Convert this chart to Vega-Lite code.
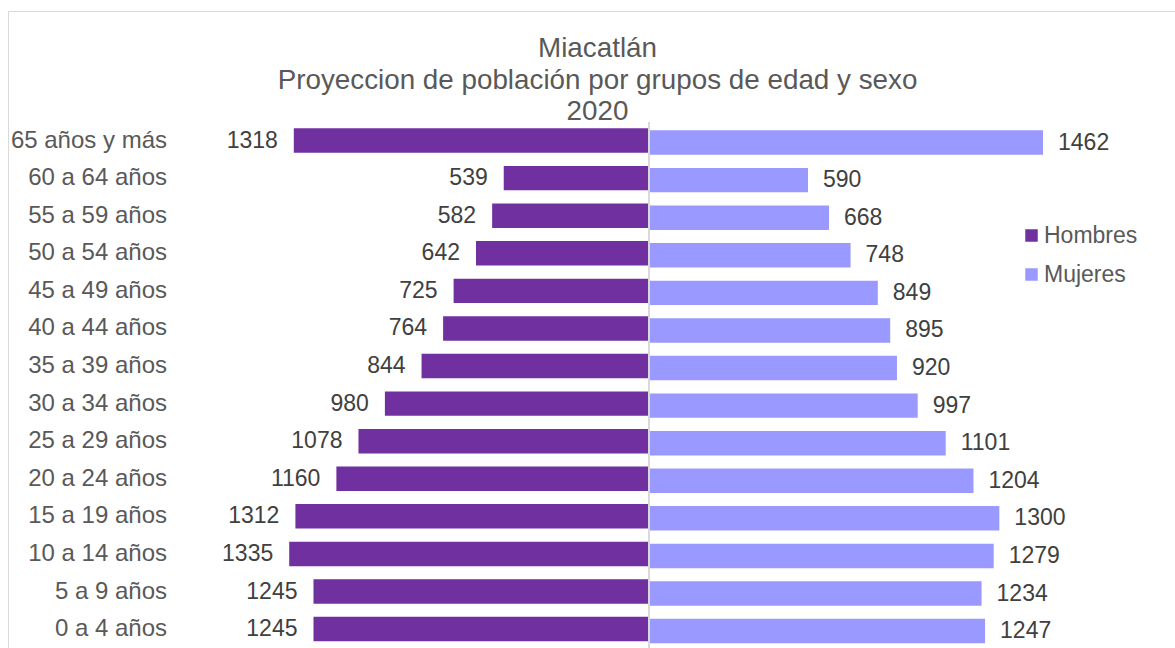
{
  "$schema": "https://vega.github.io/schema/vega-lite/v6.json",
  "width": 1167,
  "height": 637,
  "autosize": {"type": "none"},
  "padding": {"left": 8, "top": 11, "right": 0, "bottom": 0},
  "background": "white",
  "title": {
    "text": ["Miacatlán", "Proyeccion de población por grupos de edad y sexo", "2020"],
    "anchor": "middle",
    "frame": "group",
    "font": "Liberation Sans",
    "fontSize": 27.8,
    "fontWeight": "normal",
    "color": "#595959",
    "lineHeight": 31.4,
    "offset": -115,
    "dx": 6
  },
  "config": {
    "view": {"stroke": "#D9D9D9", "strokeWidth": 1},
    "font": "Liberation Sans"
  },
  "data": {
    "values": [
      {"grupo": "65 años y más", "sexo": "Hombres", "valor": 1318},
      {"grupo": "60 a 64 años", "sexo": "Hombres", "valor": 539},
      {"grupo": "55 a 59 años", "sexo": "Hombres", "valor": 582},
      {"grupo": "50 a 54 años", "sexo": "Hombres", "valor": 642},
      {"grupo": "45 a 49 años", "sexo": "Hombres", "valor": 725},
      {"grupo": "40 a 44 años", "sexo": "Hombres", "valor": 764},
      {"grupo": "35 a 39 años", "sexo": "Hombres", "valor": 844},
      {"grupo": "30 a 34 años", "sexo": "Hombres", "valor": 980},
      {"grupo": "25 a 29 años", "sexo": "Hombres", "valor": 1078},
      {"grupo": "20 a 24 años", "sexo": "Hombres", "valor": 1160},
      {"grupo": "15 a 19 años", "sexo": "Hombres", "valor": 1312},
      {"grupo": "10 a 14 años", "sexo": "Hombres", "valor": 1335},
      {"grupo": "5 a 9 años", "sexo": "Hombres", "valor": 1245},
      {"grupo": "0 a 4 años", "sexo": "Hombres", "valor": 1245},
      {"grupo": "65 años y más", "sexo": "Mujeres", "valor": 1462},
      {"grupo": "60 a 64 años", "sexo": "Mujeres", "valor": 590},
      {"grupo": "55 a 59 años", "sexo": "Mujeres", "valor": 668},
      {"grupo": "50 a 54 años", "sexo": "Mujeres", "valor": 748},
      {"grupo": "45 a 49 años", "sexo": "Mujeres", "valor": 849},
      {"grupo": "40 a 44 años", "sexo": "Mujeres", "valor": 895},
      {"grupo": "35 a 39 años", "sexo": "Mujeres", "valor": 920},
      {"grupo": "30 a 34 años", "sexo": "Mujeres", "valor": 997},
      {"grupo": "25 a 29 años", "sexo": "Mujeres", "valor": 1101},
      {"grupo": "20 a 24 años", "sexo": "Mujeres", "valor": 1204},
      {"grupo": "15 a 19 años", "sexo": "Mujeres", "valor": 1300},
      {"grupo": "10 a 14 años", "sexo": "Mujeres", "valor": 1279},
      {"grupo": "5 a 9 años", "sexo": "Mujeres", "valor": 1234},
      {"grupo": "0 a 4 años", "sexo": "Mujeres", "valor": 1247}
    ]
  },
  "encoding": {
    "y": {
      "field": "grupo",
      "type": "nominal",
      "sort": ["65 años y más", "60 a 64 años", "55 a 59 años", "50 a 54 años", "45 a 49 años", "40 a 44 años", "35 a 39 años", "30 a 34 años", "25 a 29 años", "20 a 24 años", "15 a 19 años", "10 a 14 años", "5 a 9 años", "0 a 4 años"],
      "scale": {"range": [117.3, 630.3], "paddingInner": 0.35, "paddingOuter": 0, "round": false},
      "axis": {
        "title": null,
        "domain": false,
        "ticks": false,
        "tickSize": 0,
        "grid": false,
        "labelPadding": -158.5,
        "labelAlign": "right",
        "labelBaseline": "middle",
        "labelFontSize": 24,
        "labelColor": "#595959",
        "labelFont": "Liberation Sans",
        "labelLimit": 400,
        "labelOverlap": false
      }
    }
  },
  "layer": [
    {
      "transform": [{"filter": "datum.sexo === 'Hombres'"}],
      "mark": {"type": "bar"},
      "encoding": {
        "x": {"field": "valor", "type": "quantitative", "scale": {"domain": [-1951.8, 2378.5], "reverse": true, "nice": false, "zero": false}, "axis": null},
        "color": {
          "field": "sexo",
          "type": "nominal",
          "scale": {"domain": ["Hombres", "Mujeres"], "range": ["#7030A0", "#9999FF"]},
          "legend": {
            "title": null,
            "orient": "none",
            "legendX": 1012,
            "legendY": 213,
            "symbolType": "square",
            "symbolSize": 156,
            "symbolStrokeWidth": 0,
            "labelFontSize": 23,
            "labelColor": "#595959",
            "labelFont": "Liberation Sans",
            "labelOffset": 1,
            "rowPadding": 15,
            "padding": 0
          }
        }
      }
    },
    {
      "transform": [{"filter": "datum.sexo === 'Hombres'"}],
      "mark": {"type": "text", "align": "right", "baseline": "middle", "dx": -16, "fontSize": 23, "color": "#404040", "font": "Liberation Sans"},
      "encoding": {
        "x": {"field": "valor", "type": "quantitative", "scale": {"domain": [-1951.8, 2378.5], "reverse": true, "nice": false, "zero": false}, "axis": null},
        "text": {"field": "valor", "type": "quantitative"}
      }
    },
    {
      "transform": [{"filter": "datum.sexo === 'Mujeres'"}],
      "mark": {"type": "bar", "yOffset": 2},
      "encoding": {
        "x": {"field": "valor", "type": "quantitative", "scale": {"domain": [-2378.5, 1951.8], "nice": false, "zero": false}, "axis": null},
        "color": {"field": "sexo", "type": "nominal"}
      }
    },
    {
      "transform": [{"filter": "datum.sexo === 'Mujeres'"}],
      "mark": {"type": "text", "align": "left", "baseline": "middle", "dx": 15, "yOffset": 2, "fontSize": 23, "color": "#404040", "font": "Liberation Sans"},
      "encoding": {
        "x": {"field": "valor", "type": "quantitative", "scale": {"domain": [-2378.5, 1951.8], "nice": false, "zero": false}, "axis": null},
        "text": {"field": "valor", "type": "quantitative"}
      }
    },
    {
      "mark": {"type": "rule", "color": "#D9D9D9", "strokeWidth": 2, "yOffset": -6, "y2Offset": 40},
      "encoding": {
        "x": {"datum": 0, "type": "quantitative", "scale": {"domain": [-2378.5, 1951.8], "nice": false, "zero": false}, "axis": null},
        "y": {"datum": "65 años y más", "bandPosition": 0},
        "y2": {"datum": "0 a 4 años"}
      }
    }
  ],
  "resolve": {"scale": {"x": "independent"}}
}
